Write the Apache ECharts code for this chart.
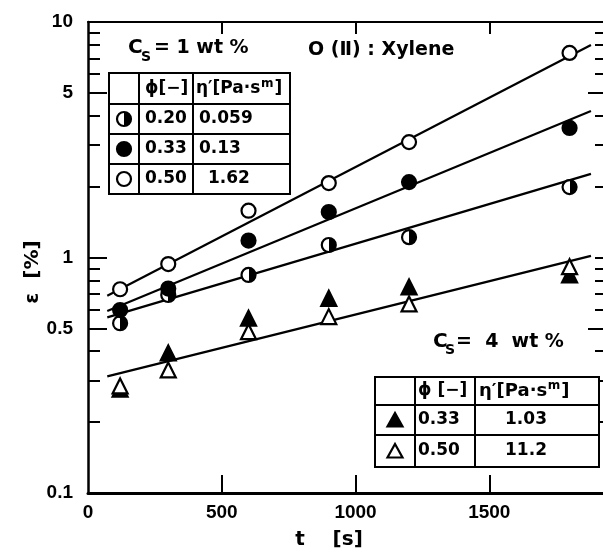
<!DOCTYPE html>
<html><head><meta charset="utf-8">
<script src="https://cdn.jsdelivr.net/npm/echarts@6/dist/echarts.min.js"></script>
<style>html,body{margin:0;padding:0;background:#fff}#c{width:603px;height:553px}</style>
</head><body><div id="c"></div>
<script>
// ---------- data ----------
const times = [120, 300, 600, 900, 1200, 1800];
const epsPhi020Cs1 = [0.526, 0.693, 0.843, 1.13, 1.22, 1.99];
const epsPhi033Cs1 = [0.598, 0.738, 1.18, 1.56, 2.09, 3.55];
const epsPhi050Cs1 = [0.733, 0.938, 1.58, 2.07, 3.09, 7.39];
const epsPhi033Cs4 = [0.276, 0.393, 0.552, 0.671, 0.75, 0.843];
const epsPhi050Cs4 = [0.285, 0.333, 0.484, 0.561, 0.635, 0.914];
// fitted straight lines: values at fitTimes
const fitTimes = [72, 1880];
const fitPhi020Cs1 = [0.557, 2.266];
const fitPhi033Cs1 = [0.593, 4.19];
const fitPhi050Cs1 = [0.688, 7.99];
const fitCs4 = [0.3126, 1.016];
// ticks
const xTickLabels = [0, 500, 1000, 1500];
const xTicks = [500, 1000, 1500];
const yTickLabels = [0.1, 0.5, 1, 5, 10];
const yMajorTicks = [0.5, 1, 5];
const yMinorTicks = [0.2, 0.3, 0.4, 0.6, 0.7, 0.8, 0.9, 2, 3, 4, 6, 7, 8, 9];
const yRightMajorTicks = [0.5, 5];
const yRightMinorTicks = [0.2, 0.3, 0.4, 0.6, 0.7, 0.8, 0.9, 1, 2, 3, 4, 6, 7, 8, 9];
// tables
const table1Phi = ['0.20', '0.33', '0.50'];
const table1Eta = ['0.059', '0.13', '1.62'];
const table2Phi = ['0.33', '0.50'];
const table2Eta = ['1.03', '11.2'];

// ---------- chart ----------
const FONT = 'DejaVu Sans';
const TICKFONT = 'Liberation Sans';
const chart = echarts.init(document.getElementById('c'), null, {renderer: 'canvas'});
const pairs = (ts, vs) => ts.map((t, i) => [t, vs[i]]);
const halfFill = () => new echarts.graphic.LinearGradient(0, 0, 1, 0, [
  {offset: 0, color: '#fff'}, {offset: 0.5, color: '#fff'},
  {offset: 0.5, color: '#000'}, {offset: 1, color: '#000'}]);

function lineSeries(vals) {
  return {type: 'line', data: pairs(fitTimes, vals), symbol: 'none', silent: true,
    lineStyle: {color: '#000', width: 2.2}, z: 2, animation: false};
}
function scatter(vals, symbol, fill, z) {
  return {type: 'scatter', data: pairs(times, vals), symbol: symbol, symbolSize: symbol === 'circle' ? 14 : 15,
    itemStyle: {color: fill, borderColor: '#000', borderWidth: 2.2, opacity: 1}, z: z, animation: false,
    emphasis: {disabled: true}};
}

const XMIN = 0, XMAX = 1925;
const yAxisBase = (pos, extra) => Object.assign({
  type: 'log', logBase: 10, min: 0.1, max: 10, position: pos,
  splitLine: {show: false}, minorTick: {show: false},
}, extra);

// graphic helpers
const G = [];
const fnt = size => 'bold ' + size + 'px "' + FONT + '"';
const mctx = document.createElement('canvas').getContext('2d');
function measure(str, size) { mctx.font = fnt(size); return mctx.measureText(str).width; }
function rect(x, y, w, h) { G.push({type: 'rect', shape: {x, y, width: w, height: h}, style: {fill: '#fff', stroke: '#000', lineWidth: 2}, z: 100}); }
function hline(x1, x2, y) { G.push({type: 'line', shape: {x1, y1: y, x2, y2: y}, style: {stroke: '#000', lineWidth: 2}, z: 101}); }
function vline(x, y1, y2) { G.push({type: 'line', shape: {x1: x, y1, x2: x, y2}, style: {stroke: '#000', lineWidth: 2}, z: 101}); }
function text(str, x, y, size, align, extra) {
  G.push({type: 'text', x, y, z: 102, style: Object.assign({text: str, font: fnt(size),
    fill: '#000', align: align || 'left', verticalAlign: 'middle'}, extra || {})});
}
function etaHeader(x, y, sz) {
  const a = 'η′[Pa·s';
  text(a, x, y, sz);
  const w = measure(a, sz);
  text('m', x + w + 0.5, y - 5, 12);
  text(']', x + w + measure('m', 12) + 1.5, y, sz);
}
function circ(x, y, fill) { G.push({type: 'circle', shape: {cx: x, cy: y, r: 7}, style: {fill, stroke: '#000', lineWidth: 2.2}, z: 102}); }
function tri(x, y, fill) { G.push({type: 'polygon', shape: {points: [[x - 7.5, y + 6.5], [x + 7.5, y + 6.5], [x, y - 7]]}, style: {fill, stroke: '#000', lineWidth: 2.2}, z: 102}); }

// titles
text('C', 128, 48, 20);
text('S', 141, 57, 14);
text('= 1 wt %', 154, 48, 19);
text('O (Ⅱ) : Xylene', 308, 50, 19);
text('C', 433, 342, 20);
text('S', 445, 350, 14);
text('=  4  wt %', 456, 342, 19);

// table 1
rect(109, 73, 181, 121);
hline(109, 290, 104); hline(109, 290, 134); hline(109, 290, 164);
vline(139, 73, 194); vline(193, 73, 194);
text('ϕ[−]', 145, 89, 17);
etaHeader(196, 89, 17);
const t1Y = [119, 149, 179];
t1Y.forEach((y, i) => {
  circ(124, y, i === 0 ? halfFill() : (i === 1 ? '#000' : '#fff'));
  text(table1Phi[i], 145, y, 17);
  text(table1Eta[i], i === 2 ? 208 : 199, y, 17);
});

// table 2
rect(375, 377, 224, 90);
hline(375, 599, 405); hline(375, 599, 435);
vline(415, 377, 467); vline(475, 377, 467);
text('ϕ [−]', 418, 391, 17);
etaHeader(479, 391, 18);
const t2Y = [420, 451];
t2Y.forEach((y, i) => {
  tri(395, y, i === 0 ? '#000' : '#fff');
  text(table2Phi[i], 418, y, 17);
  text(table2Eta[i], 526, y, 17, 'center');
});

// axis titles
text('t    [s]', 329, 540, 20, 'center');
G.push({type: 'text', x: 33, y: 272, rotation: Math.PI / 2, z: 102,
  style: {text: 'ε  [%]', font: fnt(20), fill: '#000', align: 'center', verticalAlign: 'middle'}});

const option = {
  animation: false,
  backgroundColor: '#fff',
  grid: {left: 88, top: 22, width: 516, height: 471, containLabel: false},
  xAxis: [
    {type: 'value', min: XMIN, max: XMAX, position: 'bottom',
      axisLine: {lineStyle: {color: '#000', width: 3}},
      axisTick: {inside: true, length: 18, lineStyle: {color: '#000', width: 2}, customValues: xTicks},
      axisLabel: {customValues: xTickLabels, color: '#000', fontFamily: TICKFONT, fontWeight: 'bold', fontSize: 19, margin: 10,
        formatter: v => String(v)},
      splitLine: {show: false}},
    {type: 'value', min: XMIN, max: XMAX, position: 'top',
      axisLine: {lineStyle: {color: '#000', width: 2}},
      axisTick: {inside: true, length: 12, lineStyle: {color: '#000', width: 2}, customValues: xTicks},
      axisLabel: {show: false}, splitLine: {show: false}}
  ],
  yAxis: [
    yAxisBase('left', {
      axisLine: {lineStyle: {color: '#000', width: 2.5}},
      axisTick: {inside: true, length: 19, lineStyle: {color: '#000', width: 2}, customValues: yMajorTicks},
      axisLabel: {customValues: yTickLabels, color: '#000', fontFamily: TICKFONT, fontWeight: 'bold', fontSize: 19, margin: 15,
        formatter: v => String(v)}}),
    yAxisBase('left', {
      axisLine: {show: false},
      axisTick: {inside: true, length: 12, lineStyle: {color: '#000', width: 2}, customValues: yMinorTicks},
      axisLabel: {show: false}}),
    yAxisBase('right', {
      axisLine: {show: false},
      axisTick: {inside: true, length: 15, lineStyle: {color: '#000', width: 2}, customValues: yRightMajorTicks},
      axisLabel: {show: false}}),
    yAxisBase('right', {
      axisLine: {show: false},
      axisTick: {inside: true, length: 8, lineStyle: {color: '#000', width: 2}, customValues: yRightMinorTicks},
      axisLabel: {show: false}})
  ],
  series: [
    lineSeries(fitPhi050Cs1), lineSeries(fitPhi033Cs1), lineSeries(fitPhi020Cs1), lineSeries(fitCs4),
    scatter(epsPhi033Cs4, 'triangle', '#000', 5),
    scatter(epsPhi050Cs4, 'triangle', '#fff', 6),
    scatter(epsPhi020Cs1, 'circle', halfFill(), 5),
    scatter(epsPhi033Cs1, 'circle', '#000', 6),
    scatter(epsPhi050Cs1, 'circle', '#fff', 5)
  ],
  graphic: {elements: G}
};
chart.setOption(option);
</script></body></html>
